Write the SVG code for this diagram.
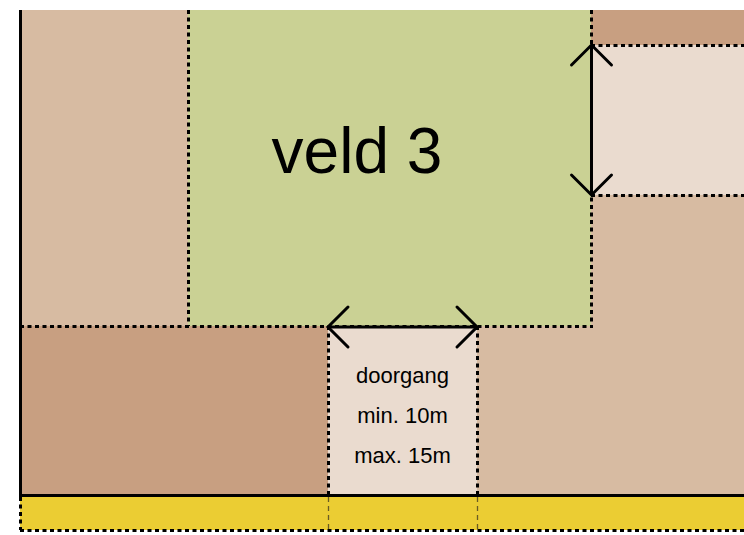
<svg xmlns="http://www.w3.org/2000/svg" width="744" height="535" viewBox="0 0 744 535">
<defs>
<style>
.tan{fill:#D7BBA2}
.brown{fill:#C89F81}
.green{fill:#CAD194}
.pink{fill:#EADBCF}
.yellow{fill:#EBCD33}
.dot{stroke:#000;stroke-width:3;stroke-dasharray:4 3.5;fill:none}
.thin{stroke:#4a4020;stroke-width:1.3;stroke-dasharray:5 4;fill:none;opacity:.8}
.solid{stroke:#000;stroke-width:3;fill:none}
.arrow{stroke:#000;stroke-width:3;fill:none;marker-start:url(#head);marker-end:url(#head)}
.big{font-family:"Liberation Sans",Arial,sans-serif;font-size:64px;fill:#000;text-anchor:middle}
.small{font-family:"Liberation Sans",Arial,sans-serif;font-size:22px;fill:#000;text-anchor:middle}
</style>
<marker id="head" markerUnits="userSpaceOnUse" markerWidth="30" markerHeight="50" viewBox="-25 -25 30 50" refX="0" refY="0" orient="auto-start-reverse" overflow="visible">
<path d="M-20,-20 L0,0 L-20,20" fill="none" stroke="#000" stroke-width="3" stroke-linecap="round" stroke-linejoin="miter"/>
</marker>
</defs>
<rect width="744" height="535" fill="#fff"/>

<g id="left-top"><rect class="tan" x="20" y="10" width="168" height="316"/></g>
<g id="veld3"><rect class="green" x="188" y="10" width="403" height="316"/><text class="big" x="357" y="173">veld 3</text></g>
<g id="right-top"><rect class="brown" x="591" y="10" width="153" height="35"/></g>
<g id="right-strip"><rect class="pink" x="591" y="45" width="153" height="150"/></g>
<g id="right-lower"><rect class="tan" x="591" y="195" width="153" height="131"/><rect class="tan" x="477" y="326" width="267" height="169"/></g>
<g id="left-bottom"><rect class="brown" x="20" y="326" width="308" height="169"/></g>
<g id="doorgang"><rect class="pink" x="328" y="326" width="149" height="169"/>
<text class="small" x="402.5" y="383">doorgang</text>
<text class="small" x="402.5" y="423">min. 10m</text>
<text class="small" x="402.5" y="463">max. 15m</text>
</g>
<g id="road"><rect class="yellow" x="20" y="496" width="724" height="34"/></g>

<g id="boundaries">
<line class="dot" x1="188.5" y1="10" x2="188.5" y2="326"/>
<line class="dot" x1="591.5" y1="10" x2="591.5" y2="326"/>
<line class="dot" x1="20" y1="326.5" x2="593" y2="326.5"/>
<line class="dot" x1="591" y1="45.5" x2="744" y2="45.5"/>
<line class="dot" x1="591" y1="195.5" x2="744" y2="195.5"/>
<line class="dot" x1="328.5" y1="326" x2="328.5" y2="495"/>
<line class="dot" x1="477.5" y1="326" x2="477.5" y2="495"/>
<line class="dot" x1="20" y1="530.5" x2="744" y2="530.5"/>
<line class="dot" x1="20.5" y1="497" x2="20.5" y2="530"/>
<line class="thin" x1="328.5" y1="497" x2="328.5" y2="530"/>
<line class="thin" x1="477.5" y1="497" x2="477.5" y2="530"/>
<line class="solid" x1="20.5" y1="10" x2="20.5" y2="496.5"/>
<line class="solid" x1="19" y1="495.5" x2="744" y2="495.5"/>
</g>

<g id="connectors">
<line class="arrow" x1="591.5" y1="45" x2="591.5" y2="195"/>
<line class="arrow" x1="328" y1="327" x2="477" y2="327"/>
</g>
</svg>
